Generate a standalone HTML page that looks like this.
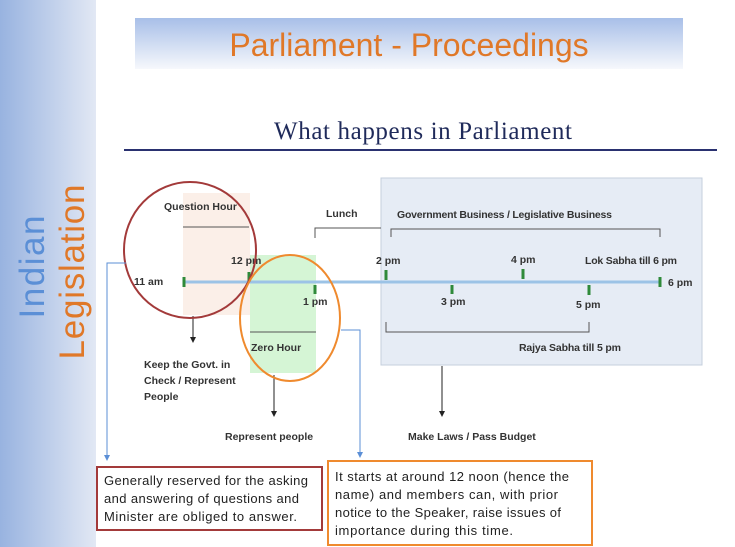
<!DOCTYPE html>
<html><head><meta charset="utf-8"><style>
body{margin:0;width:735px;height:547px;overflow:hidden;background:#fff;font-family:"Liberation Sans",sans-serif}
</style></head><body>
<svg width="735" height="547" xmlns="http://www.w3.org/2000/svg" style="position:absolute;left:0;top:0">
<defs>
<linearGradient id="sb" x1="0" x2="1" y1="0" y2="0"><stop offset="0" stop-color="#98b3e0"/><stop offset="1" stop-color="#e2e8f4"/></linearGradient>
<linearGradient id="tb" x1="0" x2="0" y1="0" y2="1"><stop offset="0" stop-color="#a8bfe8"/><stop offset="1" stop-color="#f6f8fc"/></linearGradient>
<marker id="ar" markerWidth="6" markerHeight="6" refX="5" refY="3" orient="auto"><path d="M0,0 L6,3 L0,6z" fill="#222"/></marker>
<marker id="ab" markerWidth="6" markerHeight="6" refX="5" refY="3" orient="auto"><path d="M0,0 L6,3 L0,6z" fill="#5b8fd6"/></marker>
</defs>
<rect x="0" y="0" width="96" height="547" fill="url(#sb)"/>
<text transform="translate(44,267) rotate(-90)" text-anchor="middle" font-size="35" fill="#5b8fd6" textLength="103">Indian</text>
<text transform="translate(84,272) rotate(-90)" text-anchor="middle" font-size="35" fill="#e07828" textLength="175">Legislation</text>
<rect x="135" y="18" width="548" height="51" fill="url(#tb)"/>
<text x="409" y="56" text-anchor="middle" font-size="32" fill="#e07828">Parliament - Proceedings</text>
<text x="423" y="139" text-anchor="middle" font-size="25" font-family="Liberation Serif,serif" fill="#1f2a5a" textLength="298">What happens in Parliament</text>
<line x1="124" y1="150" x2="717" y2="150" stroke="#2a3170" stroke-width="2"/>
<rect x="381" y="178" width="321" height="187" fill="#e6ecf5" stroke="#c5cfdd"/>
<rect x="183" y="193" width="67" height="122" fill="#fbefe8"/>
<line x1="183" y1="227" x2="249" y2="227" stroke="#555"/>
<rect x="250" y="255" width="66" height="118" fill="#d5f5d5"/>
<line x1="250" y1="332" x2="316" y2="332" stroke="#555"/>
<line x1="183" y1="282" x2="660" y2="282" stroke="#9cc3e6" stroke-width="3"/>
<g stroke="#2f8a3a" stroke-width="3">
<line x1="184" y1="277" x2="184" y2="287"/><line x1="249" y1="272" x2="249" y2="282"/>
<line x1="315" y1="285" x2="315" y2="294"/><line x1="386" y1="270" x2="386" y2="280"/>
<line x1="452" y1="285" x2="452" y2="294"/><line x1="523" y1="269" x2="523" y2="279"/>
<line x1="589" y1="285" x2="589" y2="295"/><line x1="660" y1="277" x2="660" y2="287"/>
</g>
<g font-size="10.5" font-weight="bold" fill="#333">
<text x="164" y="210">Question Hour</text>
<text x="326" y="217">Lunch</text>
<text x="397" y="218" textLength="215">Government Business / Legislative Business</text>
<text x="134" y="285">11 am</text>
<text x="231" y="264">12 pm</text>
<text x="303" y="305">1 pm</text>
<text x="376" y="264">2 pm</text>
<text x="441" y="305">3 pm</text>
<text x="511" y="263">4 pm</text>
<text x="576" y="308">5 pm</text>
<text x="585" y="264" textLength="92">Lok Sabha till 6 pm</text>
<text x="668" y="286">6 pm</text>
<text x="519" y="351" textLength="102">Rajya Sabha till 5 pm</text>
<text x="251" y="351">Zero Hour</text>
<text x="144" y="368">Keep the Govt. in</text>
<text x="144" y="384">Check / Represent</text>
<text x="144" y="400">People</text>
<text x="225" y="440">Represent people</text>
<text x="408" y="440">Make Laws / Pass Budget</text>
</g>
<g stroke="#555" fill="none">
<polyline points="315,238 315,228 381,228"/>
<polyline points="391,237 391,229 660,229 660,237"/>
<polyline points="386,322 386,332 589,332 589,322"/>
</g>
<g stroke="#222">
<line x1="193" y1="316" x2="193" y2="342" marker-end="url(#ar)"/>
<line x1="274" y1="375" x2="274" y2="416" marker-end="url(#ar)"/>
<line x1="442" y1="366" x2="442" y2="416" marker-end="url(#ar)"/>
</g>
<ellipse cx="190" cy="250" rx="66" ry="68" fill="none" stroke="#a33a3a" stroke-width="2"/>
<ellipse cx="290" cy="318" rx="50" ry="63" fill="none" stroke="#ef8a2e" stroke-width="2"/>
<g stroke="#5b8fd6" fill="none">
<polyline points="126,263 107,263 107,460" marker-end="url(#ab)"/>
<polyline points="341,330 360,330 360,457" marker-end="url(#ab)"/>
</g>
<rect x="97" y="467" width="225" height="63" fill="#fff" stroke="#a33a3a" stroke-width="2"/>
<g font-size="13" fill="#222">
<text x="104" y="485" textLength="204">Generally reserved for the asking</text>
<text x="104" y="503" textLength="195">and answering of questions and</text>
<text x="104" y="521" textLength="193">Minister are obliged to answer.</text>
</g>
<rect x="328" y="461" width="264" height="84" fill="#fff" stroke="#ef8a2e" stroke-width="2"/>
<g font-size="13" fill="#222">
<text x="335" y="481" textLength="234">It starts at around 12 noon (hence the</text>
<text x="335" y="499" textLength="223">name) and members can, with prior</text>
<text x="335" y="517" textLength="226">notice to the Speaker, raise issues of</text>
<text x="335" y="535" textLength="178">importance during this time.</text>
</g>
</svg>
</body></html>
